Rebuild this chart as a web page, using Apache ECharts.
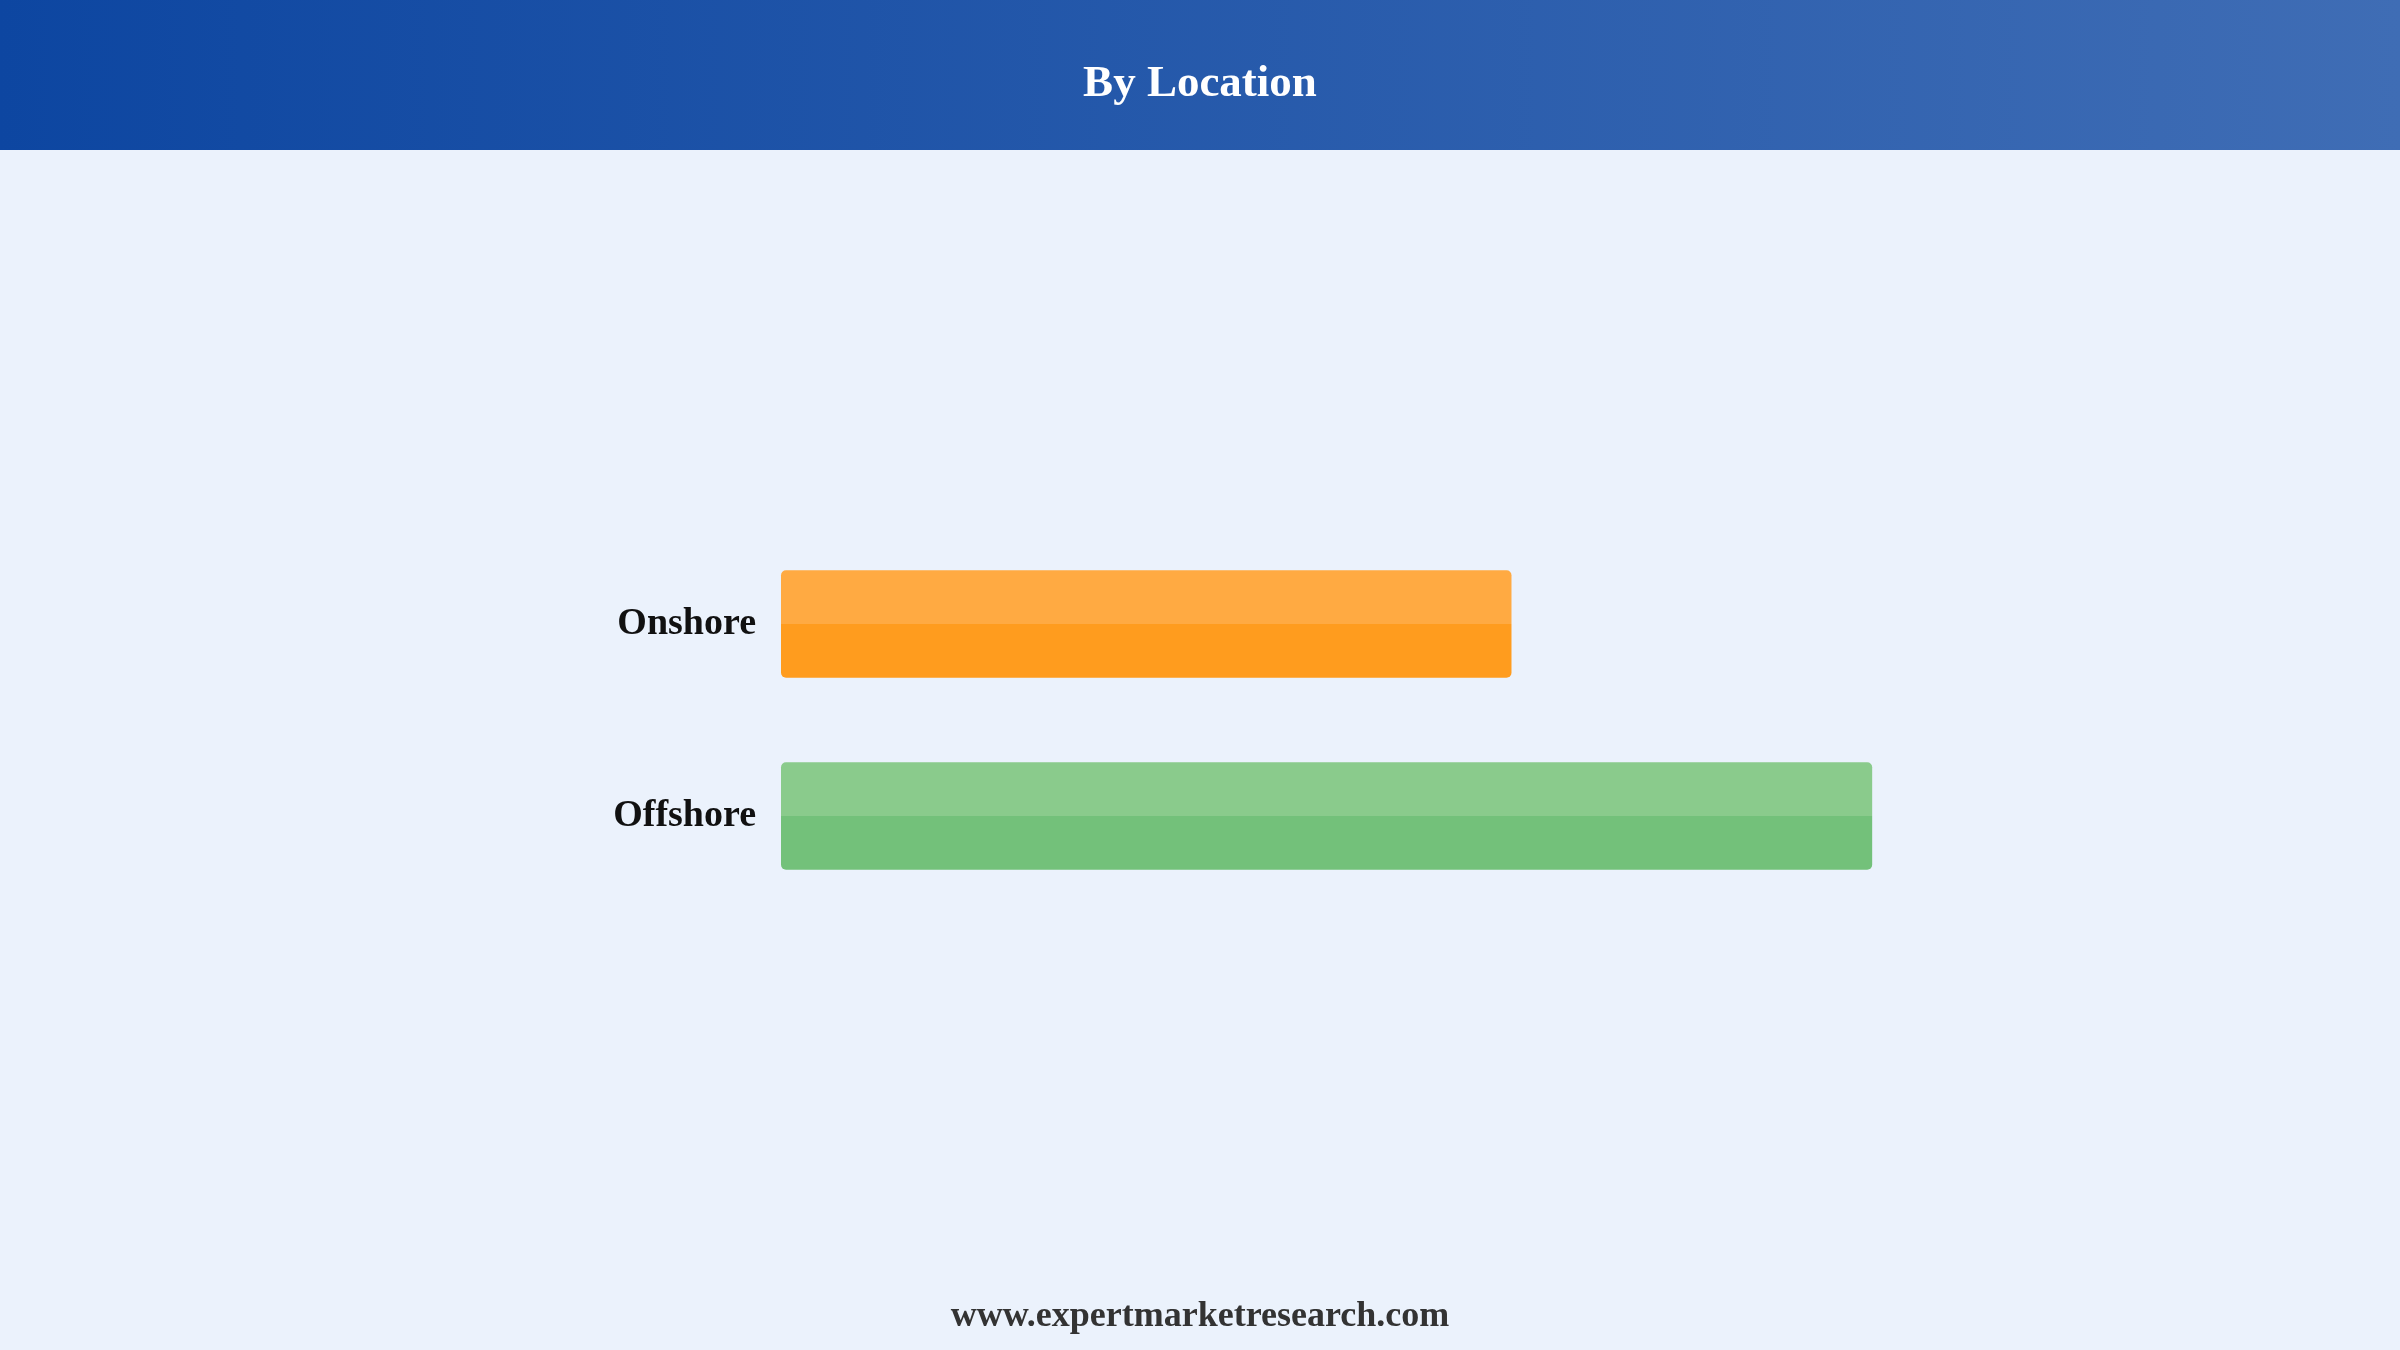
<!DOCTYPE html>
<html>
<head>
<meta charset="utf-8">
<script src="https://cdn.jsdelivr.net/npm/echarts@6/dist/echarts.min.js"></script>
<style>
html,body{margin:0;padding:0;background:#EBF2FC;}
#c{width:2400px;height:1350px;}
</style>
</head>
<body>
<div id="c"></div>
<script>
const categories = ['Onshore', 'Offshore'];
const values = [40.1, 59.9];
const topColors = ['#FFAA42', '#8ACB8C'];
const bottomColors = ['#FF9C1E', '#73C17A'];
const titleText = 'By Location';
const footerText = 'www.expertmarketresearch.com';

const chart = echarts.init(document.getElementById('c'));
const serif = '"Liberation Serif", "Times New Roman", serif';

chart.setOption({
  backgroundColor: '#EBF2FC',
  animation: false,
  graphic: [
    {
      type: 'rect', left: 0, top: 0, z: -1,
      shape: { width: 2400, height: 150 },
      style: {
        fill: new echarts.graphic.LinearGradient(0, 0, 1, 0, [
          { offset: 0, color: '#0D46A1' },
          { offset: 1, color: '#3F6DB5' }
        ])
      }
    },
    {
      type: 'text', left: 'center', top: 1299,
      style: { text: footerText, font: 'bold 36px ' + serif, fill: '#333333' }
    }
  ],
  title: {
    text: titleText,
    left: 'center',
    top: 57,
    textStyle: { color: '#ffffff', fontSize: 45, fontWeight: 'bold', fontFamily: serif }
  },
  grid: { left: 781, width: 1093, top: 528, height: 384, containLabel: false },
  xAxis: {
    type: 'value', min: 0, max: 60,
    show: false
  },
  yAxis: {
    type: 'category',
    data: categories,
    inverse: true,
    axisLine: { show: false },
    axisTick: { show: false },
    axisLabel: {
      margin: 25,
      fontSize: 38,
      fontWeight: 'bold',
      fontFamily: serif,
      color: '#111111',
      padding: [4, 0, 0, 0]
    }
  },
  series: [{
    type: 'bar',
    barCategoryGap: '44%',
    data: values.map((v, i) => ({
      value: v,
      itemStyle: {
        borderRadius: 5,
        color: new echarts.graphic.LinearGradient(0, 0, 0, 1, [
          { offset: 0, color: topColors[i] },
          { offset: 0.5, color: topColors[i] },
          { offset: 0.5, color: bottomColors[i] },
          { offset: 1, color: bottomColors[i] }
        ])
      }
    }))
  }]
});
</script>
</body>
</html>
